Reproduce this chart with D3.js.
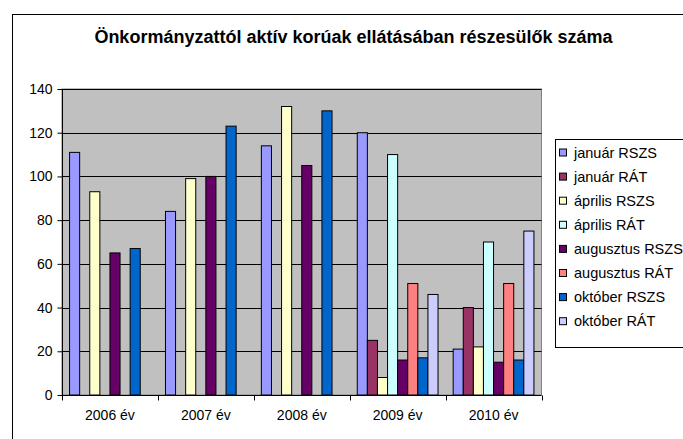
<!DOCTYPE html>
<html>
<head>
<meta charset="utf-8">
<script src="https://cdn.jsdelivr.net/npm/d3@7"></script>
<style>
  body { margin: 0; background: #fff; }
  text { font-family: "Liberation Sans", Arial, sans-serif; }
</style>
</head>
<body>
<div id="chart"></div>
<script>
const categories = ["2006 év", "2007 év", "2008 év", "2009 év", "2010 év"];
const seriesNames = ["január RSZS", "január RÁT", "április RSZS", "április RÁT",
  "augusztus RSZS", "augusztus RÁT", "október RSZS", "október RÁT"];
const januarRSZS = [111, 84, 114, 120, 21];
const januarRAT = [null, null, null, 25, 40];
const aprilisRSZS = [93, 99, 132, 8, 22];
const aprilisRAT = [null, null, null, 110, 70];
const augusztusRSZS = [65, 100, 105, 16, 15];
const augusztusRAT = [null, null, null, 51, 51];
const oktoberRSZS = [67, 123, 130, 17, 16];
const oktoberRAT = [null, null, null, 46, 75];
const yTicks = [0, 20, 40, 60, 80, 100, 120, 140];
const colors = ["#9999FF", "#993366", "#FFFFCC", "#CCFFFF", "#660066", "#FF8080", "#0066CC", "#CCCCFF"];

const seriesValues = [januarRSZS, januarRAT, aprilisRSZS, aprilisRAT,
  augusztusRSZS, augusztusRAT, oktoberRSZS, oktoberRAT];

const width = 683, height = 439;
const plot = { left: 62, top: 89, right: 541.5, bottom: 395 };

const svg = d3.select("#chart").append("svg")
  .attr("width", width)
  .attr("height", height);

// outer chart border (cut off at right and bottom)
svg.append("rect")
  .attr("x", 12.5).attr("y", 14.5)
  .attr("width", 700).attr("height", 460)
  .attr("fill", "#fff")
  .attr("stroke", "#000");

svg.append("text")
  .attr("x", 353.5)
  .attr("y", 42.5)
  .attr("text-anchor", "middle")
  .style("font-size", "18px")
  .style("font-weight", "bold")
  .text("Önkormányzattól aktív korúak ellátásában részesülők száma");

const x0 = d3.scaleBand()
  .domain(categories)
  .range([plot.left, plot.right])
  .paddingInner(0)
  .paddingOuter(0);

const x1 = d3.scaleBand()
  .domain(seriesNames)
  .range([0, x0.bandwidth()])
  .paddingOuter(0.75)
  .paddingInner(0);

const y = d3.scaleLinear().domain([0, 140]).range([plot.bottom, plot.top]);

svg.append("rect")
  .attr("x", plot.left).attr("y", plot.top)
  .attr("width", plot.right - plot.left)
  .attr("height", plot.bottom - plot.top)
  .attr("fill", "#C0C0C0")
  .attr("stroke", "#808080");

// gridlines
svg.append("g")
  .selectAll("line")
  .data(yTicks.slice(1))
  .enter()
  .append("line")
  .attr("x1", plot.left).attr("x2", plot.right)
  .attr("y1", d => Math.round(y(d)) + 0.5)
  .attr("y2", d => Math.round(y(d)) + 0.5)
  .attr("stroke", "#000");

const data = [];
categories.forEach((c, i) => {
  seriesNames.forEach((s, j) => {
    const v = seriesValues[j][i];
    if (v != null) data.push({ cat: c, name: s, value: v, color: colors[j] });
  });
});

svg.append("g")
  .selectAll(".bar")
  .data(data)
  .enter()
  .append("rect")
  .attr("class", "bar")
  .attr("x", d => x0(d.cat) + x1(d.name))
  .attr("y", d => y(d.value))
  .attr("width", x1.bandwidth())
  .attr("height", d => plot.bottom - y(d.value))
  .attr("fill", d => d.color)
  .attr("stroke", "#000")
  .attr("stroke-width", 1);

// y axis
const yAxis = svg.append("g")
  .attr("transform", "translate(" + (plot.left + 0.5) + ",0)")
  .call(d3.axisLeft(y).tickValues(yTicks).tickSize(5).tickPadding(5));
yAxis.selectAll("text").style("font-size", "14px").attr("fill", "#000");
yAxis.selectAll("line,path").attr("stroke", "#000");
yAxis.select(".domain").attr("d", "M0," + plot.top + "V" + plot.bottom);

// x axis
const xAxis = svg.append("g")
  .attr("transform", "translate(0," + (plot.bottom + 0.5) + ")")
  .call(d3.axisBottom(x0).tickSize(0).tickPadding(15));
xAxis.selectAll("text").style("font-size", "14px").attr("fill", "#000");
xAxis.select(".domain").attr("d", "M" + plot.left + ",0H" + plot.right).attr("stroke", "#000");
xAxis.selectAll(".cattick")
  .data(d3.range(categories.length + 1))
  .enter()
  .append("line")
  .attr("class", "cattick")
  .attr("x1", i => Math.round(plot.left + i * x0.step()) + 0.5)
  .attr("x2", i => Math.round(plot.left + i * x0.step()) + 0.5)
  .attr("y1", 0).attr("y2", 5)
  .attr("stroke", "#000");

// legend
const legend = svg.append("g").attr("transform", "translate(555.5,139.5)");
legend.append("rect")
  .attr("width", 140).attr("height", 208)
  .attr("fill", "#fff").attr("stroke", "#000");
const items = legend.selectAll(".item")
  .data(seriesNames)
  .enter()
  .append("g")
  .attr("class", "item")
  .attr("transform", (d, i) => "translate(0," + (13 + i * 24.1) + ")");
items.append("rect")
  .attr("x", 4).attr("y", -3.5)
  .attr("width", 7).attr("height", 7)
  .attr("fill", (d, i) => colors[i])
  .attr("stroke", "#000");
items.append("text")
  .attr("x", 18.5).attr("y", 5)
  .style("font-size", "14.5px")
  .text(d => d);
</script>
</body>
</html>
